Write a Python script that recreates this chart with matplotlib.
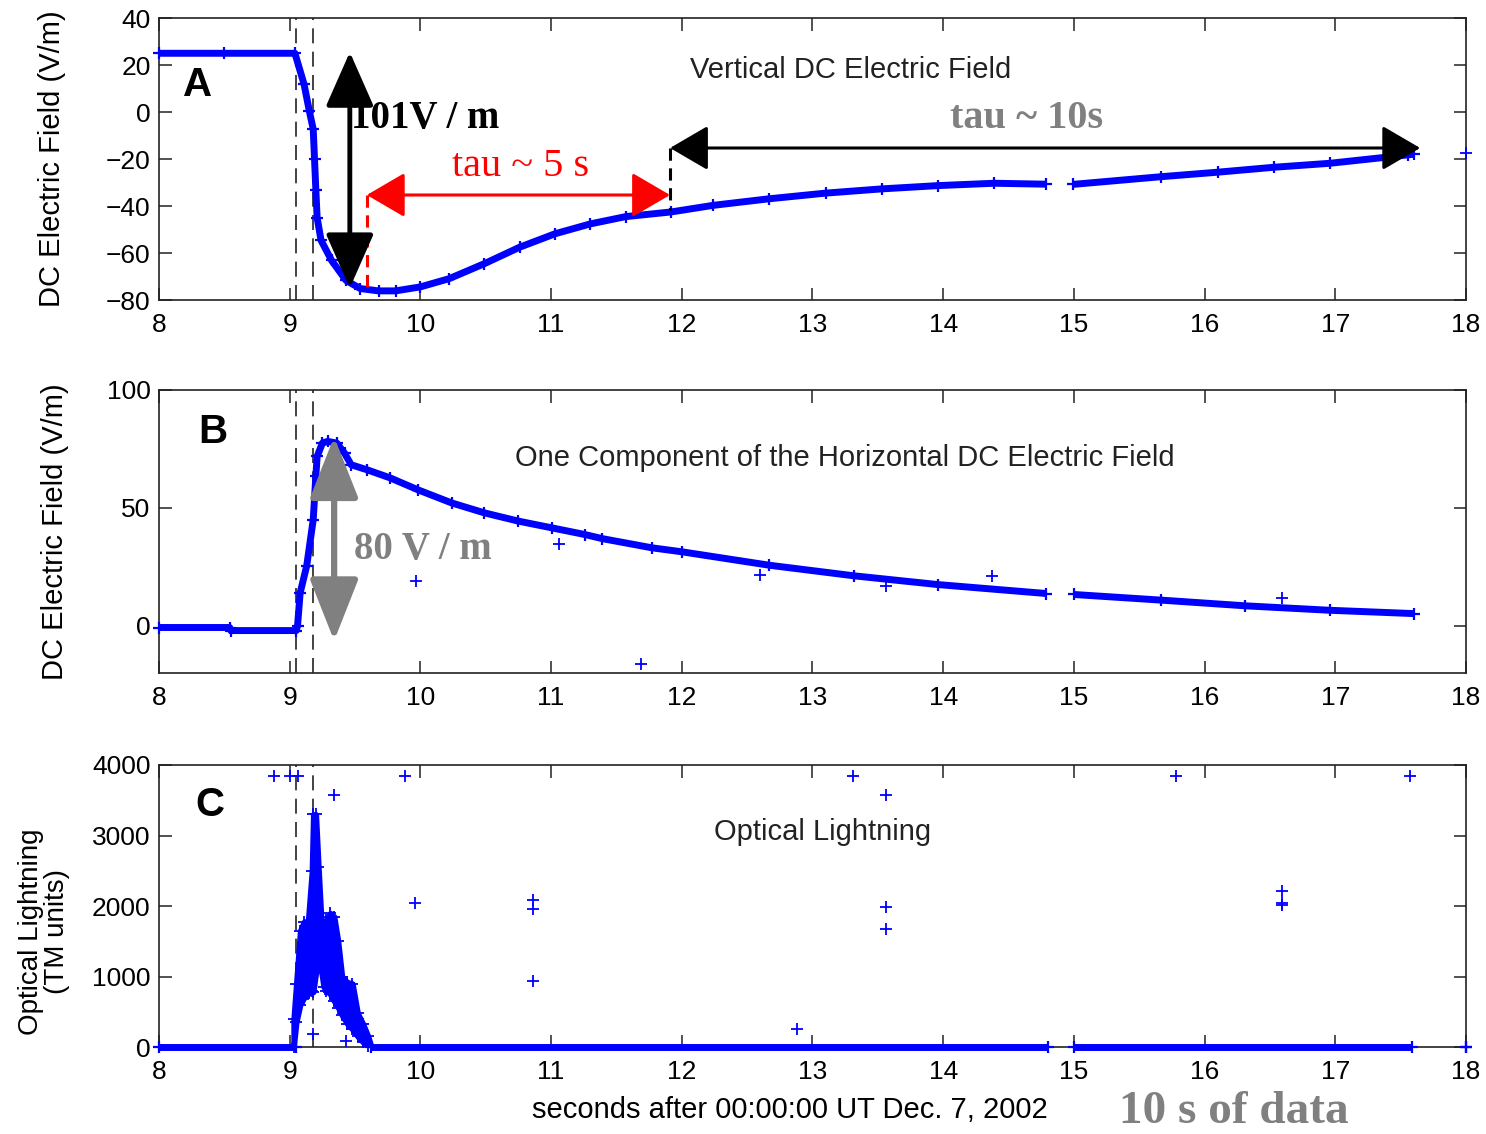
import matplotlib.pyplot as plt

# ---------------- data ----------------
# panel A : vertical DC electric field (V/m)
ta_1 = [8.0, 8.5, 9.04, 9.11, 9.15, 9.18, 9.19, 9.20, 9.21, 9.24, 9.32, 9.43,
        9.54, 9.68, 9.81, 10.0, 10.22, 10.49, 10.76, 11.03, 11.30, 11.57,
        11.92, 12.24, 12.67, 13.10, 13.53, 13.96, 14.39, 14.79]
ea_1 = [25, 25, 25, 11.8, 0.5, -7.3, -20, -33, -45, -54.6, -63.1, -71.6,
        -75.1, -76.1, -76.1, -74.4, -70.9, -64.5, -57.5, -51.8, -47.6, -44.5,
        -42.5, -39.7, -36.9, -34.5, -32.7, -31.3, -30.3, -30.7]
ta_2 = [14.99, 15.67, 16.10, 16.53, 16.96, 17.56, 17.60]
ea_2 = [-30.8, -27.5, -25.6, -23.5, -21.8, -18.2, -18.0]
ta_out = [18.0]
ea_out = [-17.6]

# panel B : one horizontal component (V/m)
tb_1 = [8.0, 8.54, 8.55, 9.05, 9.06, 9.08, 9.13, 9.18, 9.20, 9.21, 9.25,
        9.29, 9.36, 9.42, 9.47, 9.59, 9.77, 9.98, 10.24, 10.49, 10.75, 11.01,
        11.26, 11.39, 11.77, 12.0, 12.67, 13.32, 13.96, 14.79]
eb_1 = [-0.7, -0.7, -2.0, -2.0, 0, 14, 25.4, 45, 63.4, 71.8, 77.5,
        78.2, 77.5, 73.2, 68.3, 66.2, 62.7, 57.7, 52.1, 47.9, 44.4, 41.5,
        38.7, 37.0, 33.1, 31.4, 25.7, 21.2, 17.5, 13.7]
tb_2 = [15.0, 15.67, 16.31, 16.96, 17.60]
eb_2 = [13.3, 10.9, 8.5, 6.6, 5.2]
tb_out = [9.97, 11.06, 11.69, 12.6, 13.56, 14.37, 16.59]
eb_out = [19.2, 34.5, -16.0, 21.7, 16.8, 21.0, 11.8]

# panel C : optical lightning (TM units)
tc_base = [[8.0, 9.05], [9.62, 14.80], [15.0, 17.59], [18.0, 18.0]]
tc_peak = [9.03, 9.05, 9.08, 9.11, 9.14, 9.17, 9.18, 9.20, 9.22, 9.24, 9.26,
           9.28, 9.31, 9.34, 9.37, 9.40, 9.44, 9.48, 9.52, 9.56, 9.60, 9.62]
oc_high = [400, 900, 1650, 1780, 1780, 2500, 3300, 3300, 2550, 1850, 1500,
           1800, 1900, 1850, 1500, 1000, 920, 900, 480, 330, 150, 30]
oc_low = [0, 350, 600, 700, 750, 800, 780, 1050, 1350, 1100, 850,
          800, 750, 650, 560, 450, 330, 250, 150, 70, 10, 0]
tc_out = [8.88, 9.0, 9.06, 9.88, 9.34, 9.96, 10.86, 10.86, 10.86, 9.18, 9.43,
          13.31, 13.56, 13.56, 13.56, 12.88, 15.78, 16.59, 16.59, 16.59, 17.57]
oc_out = [3840, 3840, 3840, 3840, 3580, 2038, 2085, 1958, 939, 189, 80,
          3840, 3580, 1990, 1670, 255, 3840, 2212, 2038, 2014, 3840]

flash_t = [9.05, 9.18]

plt.rcParams['font.family'] = ['Liberation Sans', 'DejaVu Sans']
plt.rcParams['font.size'] = 19

fig = plt.figure(figsize=(14.86, 11.34), dpi=100)
left, width = 0.107, 0.8795
axA = fig.add_axes([left, 0.7354, width, 0.2487])
axB = fig.add_axes([left, 0.4065, width, 0.2496])
axC = fig.add_axes([left, 0.0767, width, 0.2487])

blue = '#0000ff'
ink = '#222222'
serif = ['Liberation Serif', 'DejaVu Serif']


def band(ax, t, v):
    ax.plot(t, v, color=blue, lw=5, marker='+', ms=9, mew=1.6,
            solid_capstyle='butt', clip_on=False, zorder=3)


def dots(ax, t, v):
    ax.plot(t, v, ls='none', color=blue, marker='+', ms=8, mew=1.3,
            clip_on=False, zorder=3)


def dbl_arrow(ax, p0, p1, color, lw, hl, hw):
    ax.annotate('', xy=p1, xytext=p0,
                arrowprops=dict(arrowstyle='<|-|>,head_length=%g,head_width=%g' % (hl, hw),
                                color=color, lw=lw, shrinkA=0, shrinkB=0,
                                mutation_scale=20),
                zorder=5)


for ax in (axA, axB, axC):
    ax.set_xlim(8, 18)
    ax.set_xticks(range(8, 19))
    ax.tick_params(direction='in', length=9, width=1.1, top=True, right=True,
                   labelsize=19, color=ink)
    ax.tick_params(axis='x', pad=9)
    ax.tick_params(axis='y', pad=6)
    for s in ax.spines.values():
        s.set_linewidth(1.2)
        s.set_color(ink)
    for t in flash_t:
        ax.axvline(t, color=ink, lw=1.2, ls=(0, (9, 5)), zorder=2)

# ---- A
axA.set_ylim(-80, 40)
axA.set_yticks(range(-80, 41, 20))
band(axA, ta_1, ea_1)
band(axA, ta_2, ea_2)
dots(axA, ta_out, ea_out)
axA.set_ylabel('DC Electric Field (V/m)', fontsize=21)
axA.yaxis.set_label_coords(-0.071, 0.5)
axA.text(0.018, 0.762, 'A', transform=axA.transAxes, fontsize=29,
         fontweight='bold', va='center', ha='left')
axA.text(0.529, 0.816, 'Vertical DC Electric Field', transform=axA.transAxes,
         fontsize=21, ha='center', va='center', color=ink)
dbl_arrow(axA, (9.46, 25.5), (9.46, -74.9), 'black', 3.5, 1.7, 0.75)
axA.text(9.47, -2.6, '101V / m', fontsize=28, fontweight='bold',
         family=serif, ha='left', va='center')
axA.plot([9.59, 9.59], [-35.3, -75.7], color='red', lw=2.2, ls=(0, (4, 2.5)), zorder=4)
dbl_arrow(axA, (9.59, -35.3), (11.91, -35.3), 'red', 2.2, 1.2, 0.7)
axA.text(10.77, -23, 'tau ~ 5 s', fontsize=29, color='red', family=serif,
         ha='center', va='center')
axA.plot([11.91, 11.91], [-15.3, -41.7], color='black', lw=2.2, ls=(0, (4, 2.5)), zorder=4)
dbl_arrow(axA, (11.91, -15.3), (17.65, -15.3), 'black', 2.2, 1.2, 0.7)
axA.text(14.64, -2.6, 'tau ~ 10s', fontsize=29, color='#808080',
         fontweight='bold', family=serif, ha='center', va='center')

# ---- B
axB.set_ylim(-20, 100)
axB.set_yticks([0, 50, 100])
band(axB, tb_1, eb_1)
band(axB, tb_2, eb_2)
dots(axB, tb_out, eb_out)
axB.set_ylabel('DC Electric Field (V/m)', fontsize=21)
axB.yaxis.set_label_coords(-0.069, 0.5)
axB.text(0.03, 0.852, 'B', transform=axB.transAxes, fontsize=29,
         fontweight='bold', va='center', ha='left')
axB.text(0.525, 0.76, 'One Component of the Horizontal DC Electric Field',
         transform=axB.transAxes, fontsize=21, ha='center', va='center',
         color=ink)
dbl_arrow(axB, (9.34, 80.2), (9.34, -6.3), '#808080', 4.5, 1.9, 0.75)
axB.text(9.49, 32.5, '80 V / m', fontsize=28, color='#808080',
         fontweight='bold', family=serif, ha='left', va='center')

# ---- C
axC.set_ylim(0, 4000)
axC.set_yticks(range(0, 4001, 1000))
for seg in tc_base:
    axC.plot(seg, [0, 0], color=blue, lw=5, marker='+', ms=9, mew=1.6,
             solid_capstyle='butt', clip_on=False, zorder=3)
axC.fill_between(tc_peak, oc_low, oc_high, color=blue, lw=4,
                 edgecolor=blue, zorder=3)
dots(axC, tc_peak, oc_high)
dots(axC, tc_peak, oc_low)
dots(axC, tc_out, oc_out)
axC.set_ylabel('Optical Lightning\n(TM units)', fontsize=20, linespacing=1.0)
axC.yaxis.set_label_coords(-0.068, 0.41)
axC.set_xlabel('seconds after 00:00:00 UT Dec. 7, 2002', fontsize=21)
axC.xaxis.set_label_coords(0.483, -0.175)
axC.text(0.0275, 0.858, 'C', transform=axC.transAxes, fontsize=29,
         fontweight='bold', va='center', ha='left')
axC.text(0.508, 0.762, 'Optical Lightning', transform=axC.transAxes,
         fontsize=21, ha='center', va='center', color=ink)

fig.text(0.83, 0.0194, '10 s of data', fontsize=34, color='#808080',
         fontweight='bold', family=serif, ha='center', va='center')

fig.savefig('out.png', dpi=100)
